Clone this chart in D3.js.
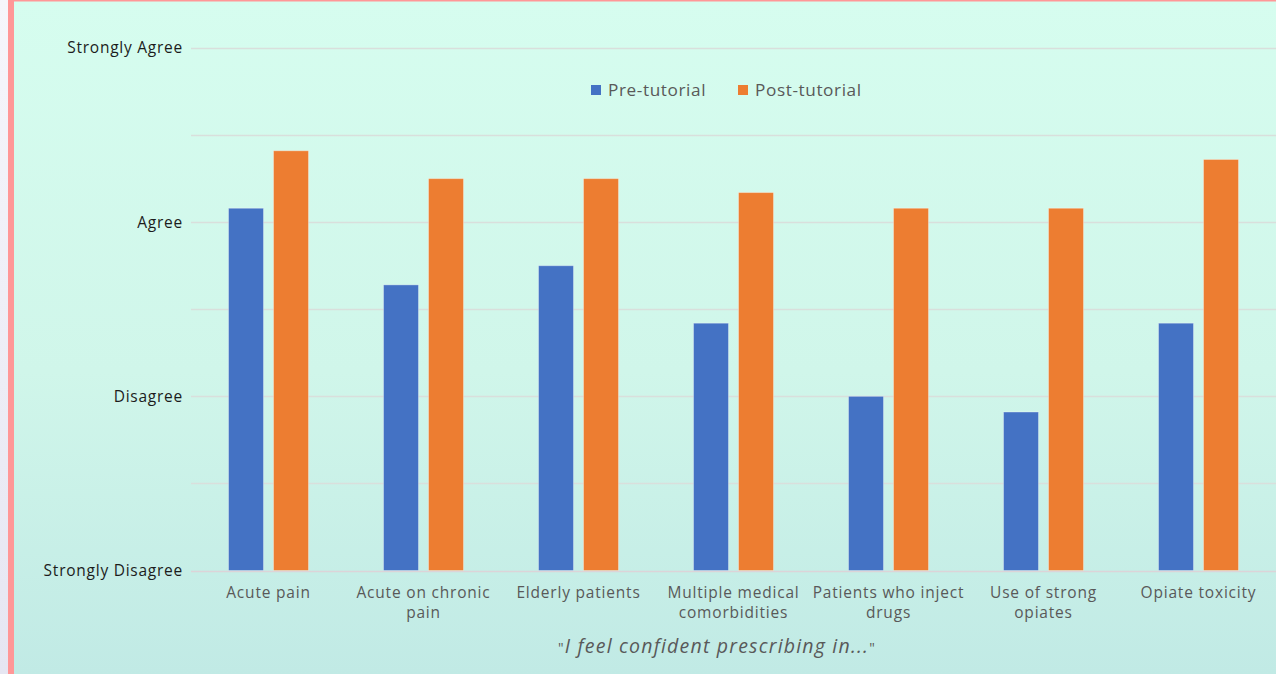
<!DOCTYPE html>
<html>
<head>
<meta charset="utf-8">
<script src="https://cdn.jsdelivr.net/npm/d3@7"></script>
<style>
  html, body { margin: 0; padding: 0; background: #ffffff; }
  svg { display: block; }
</style>
</head>
<body>
<svg id="chart" width="1276" height="674"></svg>
<script>
// Survey responses: mean Likert score (1 = Strongly Disagree ... 4 = Strongly Agree)
const categories = [
  "Acute pain",
  "Acute on chronic pain",
  "Elderly patients",
  "Multiple medical comorbidities",
  "Patients who inject drugs",
  "Use of strong opiates",
  "Opiate toxicity"
];
const seriesNames = ["Pre-tutorial", "Post-tutorial"];
const preTutorial  = [3.08, 2.64, 2.75, 2.42, 2.00, 1.91, 2.42];
const postTutorial = [3.41, 3.25, 3.25, 3.17, 3.08, 3.08, 3.36];
const tickValues = [1, 1.5, 2, 2.5, 3, 3.5, 4];
const tickLabels = { 1: "Strongly Disagree", 2: "Disagree", 3: "Agree", 4: "Strongly Agree" };
const axisTitle = "I feel confident prescribing in...";

const colors = { "Pre-tutorial": "#4472C4", "Post-tutorial": "#ED7D31" };
const W = 1276, H = 674;
const font = "'Open Sans', sans-serif";

const svg = d3.select("#chart");

// background: mint-to-teal vertical gradient, pink frame on the left and top
const defs = svg.append("defs");
const grad = defs.append("linearGradient").attr("id", "bg").attr("x1", 0).attr("y1", 0).attr("x2", 0).attr("y2", 1);
grad.append("stop").attr("offset", "0%").attr("stop-color", "#d6fdef");
grad.append("stop").attr("offset", "55%").attr("stop-color", "#d0f6ea");
grad.append("stop").attr("offset", "100%").attr("stop-color", "#c1eae5");
const edge = defs.append("linearGradient").attr("id", "edge").attr("x1", 0).attr("y1", 0).attr("x2", 0).attr("y2", 1);
edge.append("stop").attr("offset", "0%").attr("stop-color", "#f6f6fb");
edge.append("stop").attr("offset", "100%").attr("stop-color", "#e6e6f2");

svg.append("rect").attr("x", 0).attr("y", 0).attr("width", 8).attr("height", H).attr("fill", "url(#edge)");
svg.append("rect").attr("x", 14).attr("y", 0).attr("width", W - 14).attr("height", H).attr("fill", "url(#bg)");
svg.append("rect").attr("x", 8).attr("y", 0).attr("width", 6).attr("height", H).attr("fill", "#ff9797");
svg.append("rect").attr("x", 8).attr("y", 0).attr("width", W - 8).attr("height", 1.5).attr("fill", "#ff9797");

// scales
const plotLeft = 191, plotRight = 1276;
const y = d3.scaleLinear().domain([1, 4]).range([570.5, 48]);
const x0 = d3.scaleBand().domain(categories).range([plotLeft, plotRight]).padding(0);
const groupW = 80;
const x1 = d3.scaleBand().domain(seriesNames)
  .range([x0.bandwidth() / 2 - groupW / 2, x0.bandwidth() / 2 + groupW / 2])
  .paddingInner(10 / 45).paddingOuter(0);

// gridlines
svg.append("g")
  .selectAll("line")
  .data(tickValues)
  .join("line")
  .attr("x1", plotLeft).attr("x2", plotRight)
  .attr("y1", d => Math.round(y(d)) + 0.5).attr("y2", d => Math.round(y(d)) + 0.5)
  .attr("stroke", d => d === 1 ? "#dcd4d8" : "#d9dfdc")
  .attr("stroke-width", 1.5);

// y axis labels (only the named levels)
const yAxis = d3.axisLeft(y)
  .tickValues(tickValues.filter(v => tickLabels[v]))
  .tickFormat(v => tickLabels[v])
  .tickSize(0).tickPadding(0);
const yg = svg.append("g").attr("transform", `translate(183,0)`).call(yAxis);
yg.select(".domain").remove();
yg.selectAll("text")
  .attr("font-family", font).attr("font-size", 15.5).attr("letter-spacing", 0.75)
  .attr("fill", "#1c1c1c");

// bars
const rows = categories.map((c, i) => ({ cat: c, values: [
  { key: "Pre-tutorial", value: preTutorial[i] },
  { key: "Post-tutorial", value: postTutorial[i] }
]}));

svg.append("g")
  .selectAll("g")
  .data(rows)
  .join("g")
  .attr("transform", d => `translate(${x0(d.cat)},0)`)
  .selectAll("rect")
  .data(d => d.values)
  .join("rect")
  .attr("x", d => x1(d.key))
  .attr("width", x1.bandwidth())
  .attr("y", d => y(d.value))
  .attr("height", d => y(1) - y(d.value))
  .attr("fill", d => colors[d.key])
  .attr("stroke", "rgba(255,255,255,0.35)")
  .attr("stroke-width", 1);

// category labels with wrapping
const xAxis = d3.axisBottom(x0).tickSize(0).tickPadding(0);
const xg = svg.append("g").attr("transform", `translate(0,${y(1)})`).call(xAxis);
xg.select(".domain").remove();
xg.selectAll("text")
  .attr("font-family", font).attr("font-size", 15.5).attr("letter-spacing", 0.8)
  .attr("fill", "#595959")
  .attr("y", 27).attr("dy", 0)
  .each(function (d) {
    const t = d3.select(this);
    const words = d.split(" ");
    const maxW = 158;
    t.text(null);
    let line = [], lineNo = 0;
    let tspan = t.append("tspan").attr("x", 0).attr("y", 27);
    for (const w of words) {
      line.push(w);
      tspan.text(line.join(" "));
      if (tspan.node().getComputedTextLength() > maxW && line.length > 1) {
        line.pop();
        tspan.text(line.join(" "));
        line = [w];
        lineNo++;
        tspan = t.append("tspan").attr("x", 0).attr("y", 27 + lineNo * 20.5).text(w);
      }
    }
  });

// legend
const legend = svg.append("g").attr("transform", "translate(591,85)");
const legendX = [0, 147];
seriesNames.forEach((s, i) => {
  const g = legend.append("g").attr("transform", `translate(${legendX[i]},0)`);
  g.append("rect").attr("width", 10).attr("height", 10).attr("fill", colors[s]);
  g.append("text").attr("x", 17).attr("y", 5).attr("dy", "0.35em")
    .attr("font-family", font).attr("font-size", 17.2).attr("letter-spacing", 0.6)
    .attr("fill", "#595959").text(s);
});

// axis title
const title = svg.append("text")
  .attr("x", 717).attr("y", 646).attr("dy", "0.35em")
  .attr("text-anchor", "middle")
  .attr("font-family", font).attr("font-size", 19.5).attr("letter-spacing", 1.2)
  .attr("fill", "#595959");
title.append("tspan").attr("font-size", 14).text("\u0022");
title.append("tspan").attr("font-style", "italic").text(axisTitle);
title.append("tspan").attr("font-size", 14).text("\u0022");
</script>
</body>
</html>
